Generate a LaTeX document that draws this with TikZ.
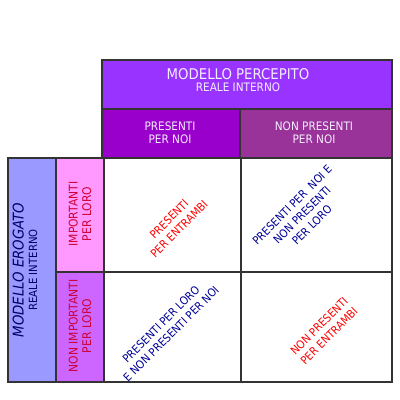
\documentclass[tikz,border=0pt]{standalone}
\usepackage{fontspec}
\setmainfont{DejaVu Sans Condensed}
\usepackage{tikz}
\usetikzlibrary{positioning,fit}
\usepackage{xcolor}
\definecolor{framegray}{HTML}{333333}
\definecolor{percviolet}{HTML}{9933FF}
\definecolor{presviolet}{HTML}{9900CC}
\definecolor{nonpresplum}{HTML}{993399}
\definecolor{erogblue}{HTML}{9999FF}
\definecolor{imppink}{HTML}{FF99FF}
\definecolor{nonimplilac}{HTML}{CC66FF}
\definecolor{cellred}{HTML}{FF0000}
\definecolor{cellnavy}{HTML}{000099}
\definecolor{sidered}{HTML}{CC0033}
\definecolor{sidenavy}{HTML}{000066}
\definecolor{headwhite}{HTML}{F4EEFF}

\begin{document}
\begin{tikzpicture}[
    x=0.025cm, y=-0.025cm,
    box/.style={draw=framegray, line width=1.4pt, inner sep=0pt},
    head/.style={font=\fontsize{8.3}{9}\selectfont, text=headwhite, align=center},
    side/.style={font=\fontsize{8.5}{9.5}\selectfont, align=center, rotate=90},
    diag/.style={font=\fontsize{8}{10}\selectfont, align=center, rotate=45}
]
\useasboundingbox (0,0) rectangle (400,400);

\node[box, fill=percviolet, fit={(102,60) (392,109)}]  (percepito) {};
\node[box, fill=presviolet, fit={(102,109) (240,158)}] (presnoi)   {};
\node[box, fill=nonpresplum, fit={(240,109) (392,158)}] (nonpresnoi) {};
\node[box, fill=erogblue, fit={(8,158) (56,382)}]      (erogato)   {};
\node[box, fill=imppink, fit={(56,158) (104,272)}]     (imploro)   {};
\node[box, fill=nonimplilac, fit={(56,272) (104,382)}] (nonimploro) {};

\node[box, fill=white, fit={(104,158) (241,272)}] (c11) {};
\node[box, fill=white, fit={(241,158) (392,272)}] (c12) {};
\node[box, fill=white, fit={(104,272) (241,382)}] (c21) {};
\node[box, fill=white, fit={(241,272) (392,382)}] (c22) {};

\node[head] (perctxt) at (238,80)
    {{\fontsize{10.5}{11}\selectfont MODELLO PERCEPITO}\\REALE INTERNO};
\node[head] (prestxt) at (170,133) {PRESENTI\\PER NOI};
\node[head] (nonprestxt) at (314,133) {NON PRESENTI\\PER NOI};

\node[side, text=sidenavy] (erogtxt) at (25,270)
    {{\fontsize{10.5}{12}\selectfont\itshape MODELLO EROGATO}\\{\fontsize{8}{9}\selectfont REALE INTERNO}};
\node[side, text=sidered] (imptxt) at (80,214) {IMPORTANTI\\PER LORO};
\node[side, text=sidered] (nonimptxt) at (80,326) {NON IMPORTANTI\\PER LORO};

\node[diag, text=cellred]  (t11) at (174,224) {PRESENTI\\PER ENTRAMBI};
\node[diag, text=cellnavy] (t12) at (302,215) {PRESENTI PER\ \ NOI E\\NON PRESENTI\\PER LORO};
\node[diag, text=cellnavy] (t21) at (166,329) {PRESENTI PER LORO\\E NON PRESENTI PER NOI};
\node[diag, text=cellred]  (t22) at (324,331) {NON PRESENTI\\PER ENTRAMBI};
\end{tikzpicture}
\end{document}
